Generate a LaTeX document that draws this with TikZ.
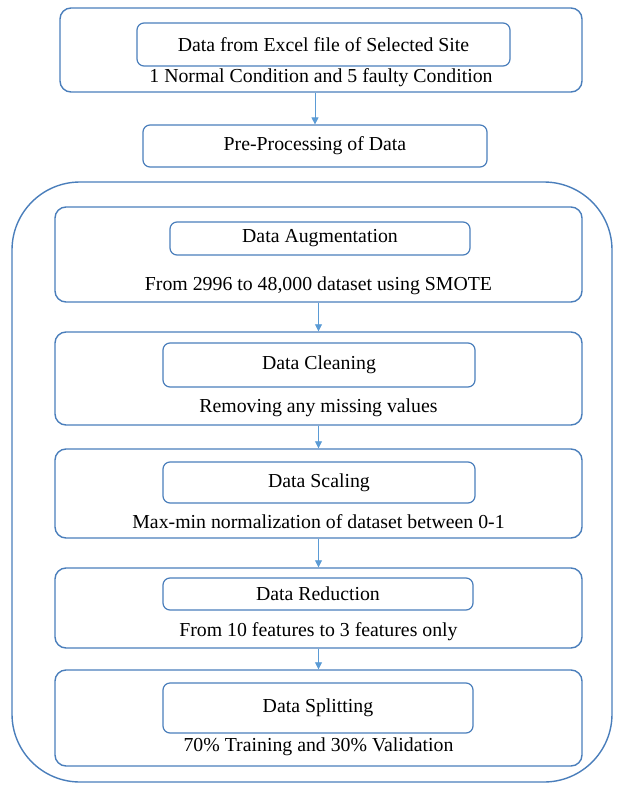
\documentclass[tikz,border=0pt]{standalone}
\usepackage{fontspec}
\setmainfont{Liberation Serif}
\usetikzlibrary{arrows.meta}
\definecolor{bord}{RGB}{74,126,187}
\definecolor{arr}{RGB}{91,155,213}
\begin{document}
\begin{tikzpicture}[x=1pt,y=-1pt,
  outerbox/.style={draw=bord,line width=1.4pt,rounded corners=11pt,inner sep=0pt},
  innerbox/.style={draw=bord,line width=1.2pt,rounded corners=7pt,inner sep=0pt,font=\fontsize{19.8}{22}\selectfont},
  lbl/.style={inner sep=0pt,font=\fontsize{19.8}{22}\selectfont},
  flow/.style={draw=arr,line width=0.8pt,-{Triangle[width=7pt,length=7pt]}}]
\useasboundingbox (0,0) rectangle (616,790);
% top
\node[outerbox,minimum width=522pt,minimum height=84pt] (top) at (321,50) {};
\node[innerbox,minimum width=373pt,minimum height=43pt] (excel) at (323.5,44.5) {Data from Excel file of Selected Site};
\node[lbl] (cond) at (321,78) {1 Normal Condition and 5 faulty Condition};
\node[innerbox,minimum width=344pt,minimum height=42pt] (pre) at (315,146) {Pre-Processing of Data};
% big container
\node[draw=bord,line width=1.4pt,rounded corners=68pt,minimum width=600pt,minimum height=600pt] (big) at (312,482) {};
% augmentation
\node[outerbox,minimum width=527pt,minimum height=95pt] (aug) at (318.5,254.5) {};
\node[innerbox,minimum width=300pt,minimum height=33pt] (augi) at (320,238.5) {Data Augmentation};
\node[lbl] (augt) at (318.5,286) {From 2996 to 48,000 dataset using SMOTE};
% cleaning
\node[outerbox,minimum width=527pt,minimum height=93pt] (cln) at (318.5,378.5) {};
\node[innerbox,minimum width=312pt,minimum height=44pt] (clni) at (319,365) {Data Cleaning};
\node[lbl] (clnt) at (318.5,408) {Removing any missing values};
% scaling
\node[outerbox,minimum width=527pt,minimum height=89pt] (scl) at (318.5,493.5) {};
\node[innerbox,minimum width=312pt,minimum height=41pt] (scli) at (319,482.5) {Data Scaling};
\node[lbl] (sclt) at (318.5,522) {Max-min normalization of dataset between 0-1};
% reduction
\node[outerbox,minimum width=527pt,minimum height=80pt] (red) at (318.5,608) {};
\node[innerbox,minimum width=310pt,minimum height=32pt] (redi) at (318,594) {Data Reduction};
\node[lbl] (redt) at (318.5,632) {From 10 features to 3 features only};
% splitting
\node[outerbox,minimum width=527pt,minimum height=96pt] (spl) at (318.5,718) {};
\node[innerbox,minimum width=310pt,minimum height=50pt] (spli) at (318,708) {Data Splitting};
\node[lbl] (splt) at (318.5,747) {70\% Training and 30\% Validation};
% arrows
\draw[flow] (top.south -| pre.north) -- (pre.north);
\draw[flow] (aug.south) -- (cln.north);
\draw[flow] (cln.south) -- (scl.north);
\draw[flow] (scl.south) -- (red.north);
\draw[flow] (red.south) -- (spl.north);
\end{tikzpicture}
\end{document}
